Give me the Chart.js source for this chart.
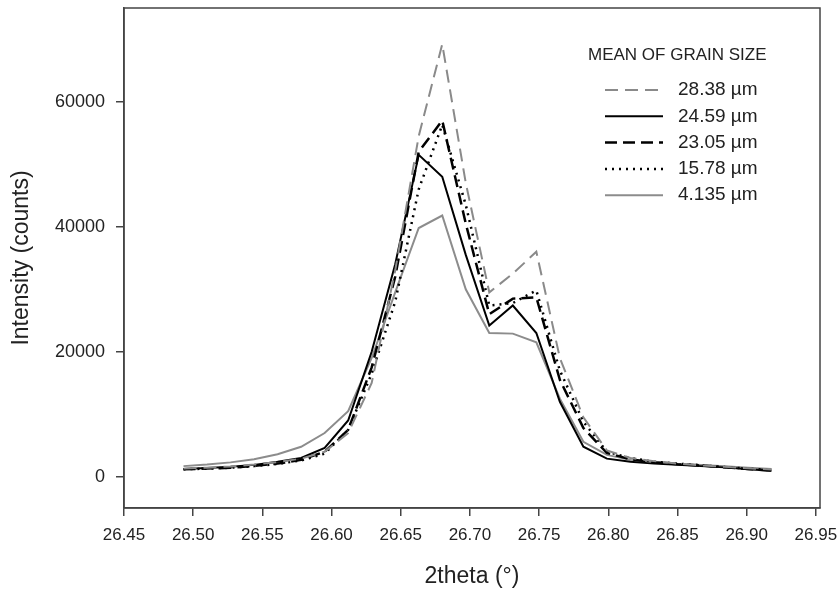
<!DOCTYPE html>
<html>
<head>
<meta charset="utf-8">
<script src="https://cdn.jsdelivr.net/npm/chart.js@4/dist/chart.umd.min.js"></script>
<style>
body{margin:0;background:#fff;}
canvas{display:block;}
</style>
</head>
<body>
<canvas id="grafico" width="838" height="592"></canvas>
<script>
// 2theta (degrees), one point per step
const twoTheta = [26.493,26.510,26.527,26.544,26.561,26.578,26.595,26.612,26.629,26.646,26.663,26.680,26.697,
26.714,26.731,26.748,26.765,26.782,26.799,26.816,26.833,26.850,26.867,26.884,26.901,26.918];

const grainLabels = ["28.38 µm","24.59 µm","23.05 µm","15.78 µm","4.135 µm"];

const s2838 = [1300,1450,1650,1950,2350,2900,4000,7000,15000,33000,54500,69200,47000,29500,32500,36000,19000,9500,4200,3000,2500,2100,1800,1600,1350,1150];
const s2459 = [1250,1400,1600,1900,2400,3000,4600,9000,20000,34000,51500,48000,35500,24200,27400,23000,12000,4800,2900,2400,2100,1900,1700,1500,1200,950];
const s2305 = [1200,1300,1450,1750,2100,2700,4000,7500,17500,32000,52000,57000,40500,26000,28500,28700,15500,7800,3800,2800,2300,2000,1800,1500,1250,1000];
const s1578 = [1200,1300,1450,1700,2050,2600,3700,7500,16500,28000,46000,56300,43500,27400,27800,29800,17000,8800,4000,3000,2400,2100,1850,1550,1300,1050];
const s4135 = [1700,1950,2300,2800,3600,4800,7000,10500,19000,29500,39800,41800,30000,23000,22900,21500,12500,5600,3500,2700,2400,2100,1900,1700,1450,1250];

const xTicks = [26.45,26.50,26.55,26.60,26.65,26.70,26.75,26.80,26.85,26.90,26.95];
const yTicks = [0,20000,40000,60000];

const FONT = '"Liberation Sans", Arial, sans-serif';
const TXT = "#222";
const AXIS = "#444";

function pts(arr){
return twoTheta.map((x,i)=>({x:x,y:arr[i]}));
}

const estilos = [
{color:"#8a8a8a", width:2, dash:[13,7]},
{color:"#000", width:2, dash:[]},
{color:"#000", width:2.5, dash:[12,6]},
{color:"#000", width:2.5, dash:[2,5]},
{color:"#8c8c8c", width:2, dash:[]}
];
const series = [s2838,s2459,s2305,s1578,s4135];

const datasets = series.map((s,i)=>({
label:grainLabels[i],
data:pts(s),
borderColor:estilos[i].color,
borderWidth:estilos[i].width,
borderDash:estilos[i].dash,
pointRadius:0,
tension:0,
fill:false
}));

// frame round the plot + legend inside the plot
const moldura = {
id:"moldura",
afterDraw(chart){
const {ctx, chartArea:a} = chart;
ctx.save();
ctx.strokeStyle = AXIS;
ctx.lineWidth = 1.5;
ctx.strokeRect(a.left, a.top, a.right-a.left, a.bottom-a.top);

ctx.fillStyle = TXT;
ctx.textBaseline = "middle";
ctx.textAlign = "left";
ctx.font = "17px " + FONT;
ctx.fillText("MEAN OF GRAIN SIZE", 588, 55);

chart.data.datasets.forEach((ds,i)=>{
const y = 90 + i*26.3;
ctx.strokeStyle = ds.borderColor;
ctx.lineWidth = ds.borderWidth;
ctx.setLineDash(ds.borderDash);
ctx.beginPath();
ctx.moveTo(605,y);
ctx.lineTo(663,y);
ctx.stroke();
ctx.setLineDash([]);
ctx.font = "19px " + FONT;
ctx.fillText(ds.label, 678, y);
});
ctx.restore();
}
};

new Chart(document.getElementById("grafico"),{
type:"line",
data:{datasets:datasets},
options:{
responsive:false,
animation:false,
devicePixelRatio:1,
layout:{padding:{top:8,right:18,left:0,bottom:0}},
plugins:{legend:{display:false},tooltip:{enabled:false}},
scales:{
x:{
type:"linear",
min:26.45,
max:26.953,
afterBuildTicks:(s)=>{s.ticks = xTicks.map(v=>({value:v}));},
afterFit:(s)=>{s.height = 84; s.paddingLeft = 0; s.paddingRight = 0;},
grid:{drawOnChartArea:false, drawTicks:true, tickLength:8, color:AXIS, lineWidth:1.5},
border:{color:AXIS, width:1.5},
ticks:{
font:{family:FONT, size:17},
color:TXT,
padding:9,
maxRotation:0,
autoSkip:false,
callback:(v)=>v.toFixed(2)
},
title:{display:true, text:"2theta (°)", color:TXT, font:{family:FONT, size:23}, padding:{top:0,bottom:2}}
},
y:{
type:"linear",
min:-5000,
max:75000,
afterBuildTicks:(s)=>{s.ticks = yTicks.map(v=>({value:v}));},
afterFit:(s)=>{s.width = 124; s.paddingTop = 0; s.paddingBottom = 0;},
grid:{drawOnChartArea:false, drawTicks:true, tickLength:8, color:AXIS, lineWidth:1.5},
border:{color:AXIS, width:1.5},
ticks:{
font:{family:FONT, size:18},
color:TXT,
padding:11,
callback:(v)=>String(v)
},
title:{display:true, text:"Intensity (counts)", color:TXT, font:{family:FONT, size:23}, padding:{top:8,bottom:0}}
}
}
},
plugins:[moldura]
});
</script>
</body>
</html>
